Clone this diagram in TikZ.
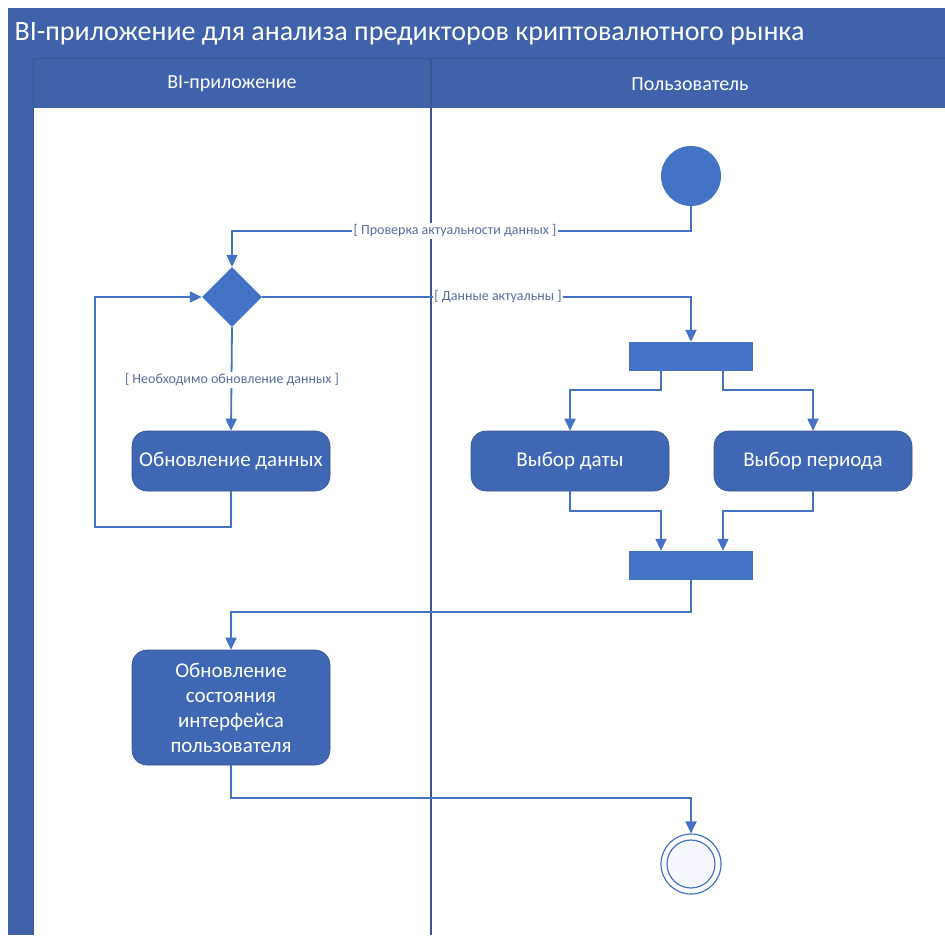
\documentclass[tikz,border=0pt]{standalone}
\usepackage{fontspec}
\setmainfont{Carlito}
\usetikzlibrary{shapes.geometric,arrows.meta}
\definecolor{hdr}{HTML}{3F62AB}
\definecolor{boxc}{HTML}{3F67B3}
\definecolor{linec}{HTML}{4472C4}
\definecolor{lblc}{HTML}{5A6E9E}
\definecolor{divc}{HTML}{3A5590}
\tikzset{
  flow/.style={draw=linec, line width=1.8pt, -{Triangle[length=12pt,width=11pt]}},
  act/.style={rectangle, rounded corners=15pt, fill=boxc, draw=divc, line width=0.6pt, text=white,
    minimum width=198pt, minimum height=60pt, font=\fontsize{21}{25}\selectfont, align=center},
  bar/.style={rectangle, fill=linec, minimum width=124pt, minimum height=29pt, inner sep=0pt},
  lbl/.style={fill=white, text=lblc, inner sep=1.5pt, font=\fontsize{14}{16}\selectfont},
  startnode/.style={circle, fill=linec, minimum size=60pt, inner sep=0pt},
  dec/.style={diamond, fill=linec, minimum width=60pt, minimum height=60pt, inner sep=0pt},
  hdrtxt/.style={text=white, font=\fontsize{20}{24}\selectfont}
}
\begin{document}
\begin{tikzpicture}[x=1pt,y=-1pt]
\useasboundingbox (0,0) rectangle (945,935);
\fill[white] (0,0) rectangle (945,935);
% frame
\fill[hdr] (8,8) rectangle (945,935);
\fill[white] (33,108) rectangle (945,935);
\draw[divc, line width=0.8pt] (33,58) -- (945,58);
\draw[divc, line width=0.8pt] (33,58) -- (33,935);
\draw[divc, line width=1.5pt] (431,58) -- (431,935);
\node[text=white, anchor=west, font=\fontsize{28}{32}\selectfont] (title) at (11,34) {BI-приложение для анализа предикторов криптовалютного рынка};
\node[hdrtxt] (lane1) at (232,84) {BI-приложение};
\node[hdrtxt] (lane2) at (690,84) {Пользователь};
% nodes
\node[startnode] (start) at (691,176) {};
\node[dec] (dec) at (232,297) {};
\node[bar] (fork1) at (691,356.5) {};
\node[act] (date) at (570,461) {Выбор даты};
\node[act] (period) at (813,461) {Выбор периода};
\node[act] (upd) at (231,461) {Обновление данных};
\node[bar] (fork2) at (691,565.5) {};
\node[act, minimum height=115pt] (ui) at (231,707.5) {Обновление\\состояния\\интерфейса\\пользователя};
\node[circle, draw=linec, line width=1.2pt, fill=white, minimum size=60pt, inner sep=0pt] (final) at (691,864) {};
\node[circle, draw=linec, line width=1.2pt, fill=blue!3, minimum size=48pt, inner sep=0pt] (finalin) at (691,864) {};
% connectors
\draw[flow] (start.south) |- (431,231) -| (dec.north);
\draw[flow] (dec.east) -| (fork1.north);
\draw[flow] (dec.south) -- (upd.north);
\draw[flow] (upd.south) -- ++(0,36) -| (95,297) -- (dec.west);
\draw[flow] ([xshift=-30pt]fork1.south) -- ++(0,19) -| (date.north);
\draw[flow] ([xshift=32pt]fork1.south) -- ++(0,19) -| (period.north);
\draw[flow] (date.south) -- ++(0,20) -| ([xshift=-30pt]fork2.north);
\draw[flow] (period.south) -- ++(0,20) -| ([xshift=32pt]fork2.north);
\draw[flow] (fork2.south) -- ++(0,32) -| (ui.north);
\draw[flow] (ui.south) -- ++(0,33) -| (final.north);
% labels
\node[lbl] (g1) at (455,231) {[ Проверка актуальности данных ]};
\node[lbl] (g2) at (498,297) {[ Данные актуальны ]};
\node[lbl] (g3) at (232,380) {[ Необходимо обновление данных ]};
\end{tikzpicture}
\end{document}
